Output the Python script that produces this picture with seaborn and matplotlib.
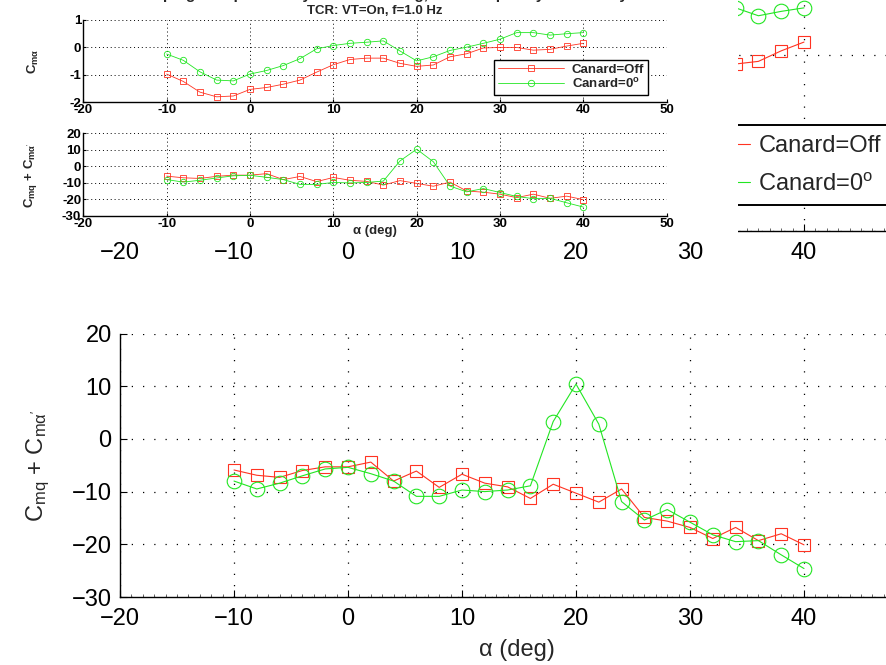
import matplotlib
matplotlib.use('Agg')
import matplotlib.pyplot as plt
from matplotlib.ticker import MultipleLocator
import seaborn as sns

# angle of attack (deg)
alpha = [-10, -8, -6, -4, -2, 0, 2, 4, 6, 8, 10, 12, 14,
         16, 18, 20, 22, 24, 26, 28, 30, 32, 34, 36, 38, 40]

# C_m_alpha
cma_off = [-0.97, -1.24, -1.63, -1.80, -1.77, -1.53, -1.46, -1.34, -1.19, -0.90, -0.63, -0.44, -0.39,
           -0.39, -0.58, -0.69, -0.64, -0.34, -0.23, -0.02, 0.00, 0.00, -0.10, -0.07, 0.05, 0.15]
cma_0 = [-0.24, -0.47, -0.89, -1.19, -1.22, -0.97, -0.84, -0.66, -0.41, -0.05, 0.07, 0.15, 0.19,
         0.24, -0.13, -0.49, -0.34, -0.11, 0.01, 0.15, 0.30, 0.54, 0.54, 0.45, 0.50, 0.54]

# C_mq + C_m_alpha_dot
damp_off = [-5.9, -6.9, -7.3, -6.0, -5.3, -5.3, -4.4, -8.0, -6.1, -9.2, -6.7, -8.4, -9.1,
            -11.3, -8.6, -10.3, -12.0, -9.5, -14.9, -15.6, -16.8, -18.9, -16.8, -19.3, -18.0, -20.1]
damp_0 = [-8.0, -9.5, -8.4, -7.0, -5.7, -5.4, -6.6, -8.0, -10.9, -10.9, -9.7, -10.0, -9.7,
          -8.9, 3.3, 10.4, 2.8, -11.9, -15.4, -13.4, -15.8, -18.2, -19.5, -19.3, -22.0, -24.6]

labels = ['Canard=Off', 'Canard=0$^{\\mathrm{o}}$']
labels_small = ['Canard=Off', 'Canard=0$^{\\mathbf{o}}$']
xticks = [-20, -10, 0, 10, 20, 30, 40, 50]
yticks_cma = [-2, -1, 0, 1]
yticks_damp = [-30, -20, -10, 0, 10, 20]
sub_title = 'TCR: VT=On, f=1.0 Hz'
main_title = 'Pitch Damping Comparison by Canard Setting, Low Frequency Oscillatory Test'

RED = '#ff3322'
GREEN = '#22e622'

sns.set_style('white')
plt.rcParams['font.family'] = ['Liberation Sans', 'DejaVu Sans']
plt.rcParams['mathtext.fontset'] = 'custom'
plt.rcParams['mathtext.rm'] = 'Liberation Sans'
plt.rcParams['mathtext.it'] = 'Liberation Sans:italic'
plt.rcParams['mathtext.bf'] = 'Liberation Sans:bold'

W, H = 887, 665
SMALL = 9.5


def box(x0, y0, x1, y1):
    # pixel rectangle -> figure fraction
    return [x0 / W, 1 - y1 / H, (x1 - x0) / W, (y1 - y0) / H]


def draw(ax, y_off, y_on, ms_sq, ms_ci, lw, lab):
    sns.lineplot(x=alpha, y=y_off, ax=ax, color=RED, lw=lw, marker='s', ms=ms_sq,
                 mfc='none', mec=RED, mew=lw, label=lab[0], legend=False)
    sns.lineplot(x=alpha, y=y_on, ax=ax, color=GREEN, lw=lw, marker='o', ms=ms_ci,
                 mfc='none', mec=GREEN, mew=lw, label=lab[1], legend=False)


def style(ax, yticks, big=True):
    ax.set_xlim(-20, 50)
    ax.set_ylim(yticks[0], yticks[-1])
    ax.set_xticks(xticks)
    ax.set_yticks(yticks)
    for s in ['top', 'right']:
        ax.spines[s].set_visible(False)
    for s in ['left', 'bottom']:
        ax.spines[s].set_color('k')
        ax.spines[s].set_linewidth(1.0)
    if big:
        ax.grid(True, color='k', ls=(0, (1, 8)), lw=0.9)
        ax.xaxis.set_minor_locator(MultipleLocator(1))
        ax.tick_params(which='major', direction='in', length=5, width=0.8,
                       labelsize=17, pad=8, colors='k', bottom=True, left=True)
        ax.tick_params(axis='y', pad=6)
        ax.tick_params(which='minor', direction='in', length=2, width=0.5, bottom=True)
    else:
        ax.grid(True, color='k', ls=(0, (1, 3)), lw=0.7)
        ax.tick_params(direction='in', length=2.5, width=0.8, labelsize=SMALL,
                       pad=1.5, colors='k', bottom=True, left=True)
        ax.set_xticklabels([str(t) for t in xticks], fontweight='bold')
        ax.set_yticklabels([str(t) for t in yticks], fontweight='bold')
    ax.set_xlabel('')
    ax.set_ylabel('')


fig = plt.figure(figsize=(W / 100, H / 100), dpi=100)

# ---- large figure (background) ----
ax_top = fig.add_axes(box(120, -32.5, 918, 230.7))
draw(ax_top, cma_off, cma_0, 8.5, 10.5, 0.8, labels)
style(ax_top, yticks_cma)
leg = ax_top.legend(loc='upper left', bbox_to_anchor=(0.68, 0.40), fontsize=17,
                    handlelength=3.3, handletextpad=0.35, borderpad=0.4,
                    labelspacing=0.7, fancybox=False, framealpha=1,
                    edgecolor='k', borderaxespad=0)
leg.get_frame().set_linewidth(1.4)

ax_bot = fig.add_axes(box(120, 333.5, 918, 597))
draw(ax_bot, damp_off, damp_0, 8.5, 10.5, 0.8, labels)
style(ax_bot, yticks_damp)
ax_bot.set_xlabel('α (deg)', fontsize=17, va='center')
ax_bot.xaxis.set_label_coords(0.4975, -0.2)
ax_bot.set_ylabel("C$_{\\mathrm{mq}}$ + C$_{\\mathrm{m\\alpha}'}$", fontsize=17,
                  va='center', ha='center')
ax_bot.yaxis.set_label_coords(-0.1028, 0.5)

# ---- small copy of the figure pasted on top ----
bg = fig.add_axes(box(0, 0, 738, 239), zorder=2)
bg.set_facecolor('white')
bg.set_xticks([])
bg.set_yticks([])
for s in bg.spines.values():
    s.set_visible(False)

in_top = fig.add_axes(box(83.3, 20, 666.7, 102.3), zorder=3)
draw(in_top, cma_off, cma_0, 3.8, 4.6, 0.6, labels_small)
style(in_top, yticks_cma, big=False)
in_top.set_title(sub_title, fontsize=SMALL, fontweight='bold', y=1.109, pad=0, va='center')
in_top.set_ylabel('C$_{\\mathbf{m\\alpha}}$', fontsize=SMALL, fontweight='bold',
                  va='center', ha='center')
in_top.yaxis.set_label_coords(-0.086, 0.5)
leg2 = in_top.legend(loc='lower right', bbox_to_anchor=(0.968, 0.089),
                     prop={'weight': 'bold', 'size': SMALL}, handlelength=5.0,
                     handletextpad=0.6, borderpad=0.3, labelspacing=0.1,
                     fancybox=False, framealpha=1, edgecolor='k', borderaxespad=0)
leg2.get_frame().set_linewidth(1.0)

in_bot = fig.add_axes(box(83.3, 133.3, 666.7, 216), zorder=3)
draw(in_bot, damp_off, damp_0, 3.8, 4.6, 0.6, labels_small)
style(in_bot, yticks_damp, big=False)
in_bot.set_xlabel('α (deg)', fontsize=SMALL, fontweight='bold', va='center')
in_bot.xaxis.set_label_coords(0.5, -0.181)
in_bot.set_ylabel("C$_{\\mathbf{mq}}$ + C$_{\\mathbf{m\\alpha}'}$", fontsize=SMALL,
                  fontweight='bold', va='center', ha='center')
in_bot.yaxis.set_label_coords(-0.091, 0.5)

# main title of the small figure, mostly cut off by the top edge
fig.text(375 / W, 1 + 0.5 / H, main_title, ha='center', va='baseline',
         fontsize=11, fontweight='bold', zorder=5)

fig.savefig('out.png', dpi=100)
